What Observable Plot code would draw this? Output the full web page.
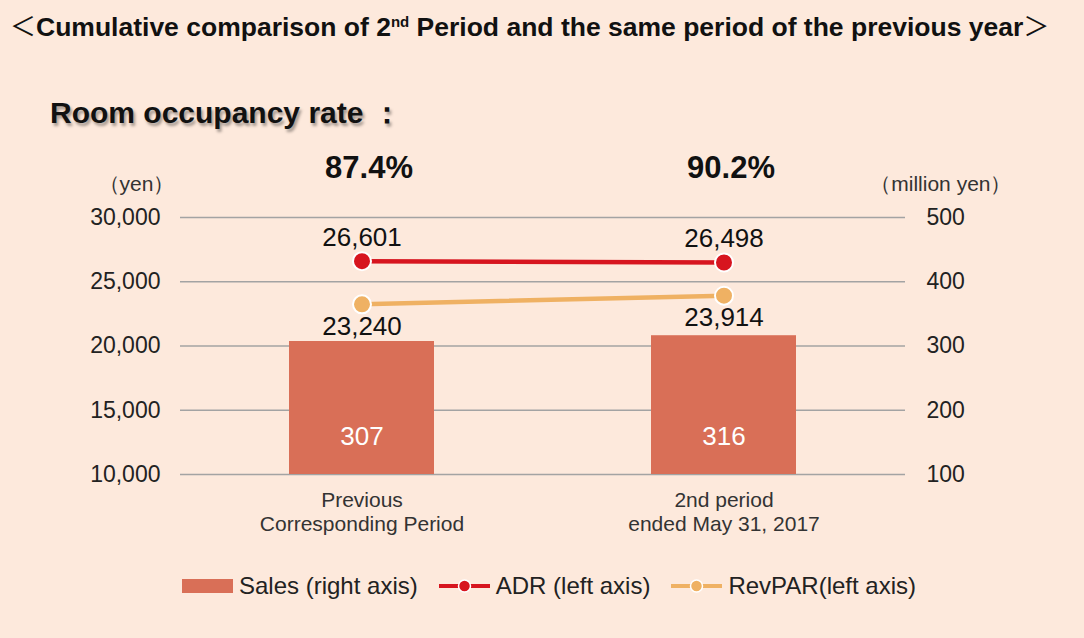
<!DOCTYPE html>
<html>
<head>
<meta charset="utf-8">
<script src="https://cdn.jsdelivr.net/npm/d3@7"></script>
<script src="https://cdn.jsdelivr.net/npm/@observablehq/plot@0.6"></script>
<style>
  html, body { margin: 0; padding: 0; background: #fde9dc; }
  #page { position: relative; width: 1084px; height: 638px; background: #fde9dc; overflow: hidden;
          font-family: "Liberation Sans", Arial, sans-serif; color: #111; }
  #title { position: absolute; left: 10px; top: 6px; font-size: 26.5px; font-weight: bold; white-space: nowrap; }
  #title .br { font-family: "Noto Sans CJK JP", sans-serif; font-weight: normal; font-size: 26px; }
  #title sup { font-size: 15px; vertical-align: 9px; line-height: 0; }
  #occ { position: absolute; left: 50px; top: 93px; font-size: 30px; font-weight: bold; white-space: nowrap;
         text-shadow: 2px 3px 3px rgba(0,0,0,0.35); }
  #chart { position: absolute; left: 0; top: 130px; }
  #legend { position: absolute; left: 182px; top: 572px; display: flex; align-items: center; font-size: 24px; color: #222; white-space: nowrap; }
  #legend .item { display: flex; align-items: center; margin-right: 21px; }
  #legend svg { margin-right: 5px; }
</style>
</head>
<body>
<div id="page">
  <div id="title"><span class="br">＜</span>Cumulative comparison of 2<sup>nd</sup> Period and the same period of the previous year<span class="br">＞</span></div>
  <div id="occ">Room occupancy rate ：</div>
  <div id="chart"></div>
  <div id="legend"></div>
</div>
<script>
// ---- data ----
const categories = ["Previous\nCorresponding Period", "2nd period\nended May 31, 2017"];
const sales = [307, 316];          // million yen (right axis)
const adr = [26601, 26498];        // yen (left axis)
const revpar = [23240, 23914];     // yen (left axis)
const occupancy = ["87.4%", "90.2%"];
const leftTicks = [10000, 15000, 20000, 25000, 30000];
const rightTicks = [100, 200, 300, 400, 500];
const seriesNames = ["Sales (right axis)", "ADR (left axis)", "RevPAR(left axis)"];
const unitLabels = ["（yen）", "（million yen）"];

// ---- colours ----
const cBar = "#d96f57", cADR = "#d7151f", cRev = "#efb163", cGrid = "#a3a3a3";

// right axis (100..500) mapped onto left axis (10000..30000)
const r2l = v => leftTicks[0] + (v - rightTicks[0]) * (leftTicks[4] - leftTicks[0]) / (rightTicks[4] - rightTicks[0]);

const rows = categories.map((c, i) => ({cat: c, sales: sales[i], salesL: r2l(sales[i]), adr: adr[i], revpar: revpar[i], occ: occupancy[i]}));

const fmt = d3.format(",");

const chart = Plot.plot({
  width: 1084,
  height: 410,
  marginLeft: 180,
  marginRight: 179,
  marginTop: 87,
  marginBottom: 66,
  style: {background: "transparent", fontFamily: "'Liberation Sans', Arial, sans-serif", fontSize: "22px", color: "#222", overflow: "visible"},
  x: {type: "band", domain: categories, paddingInner: 0.6, paddingOuter: 0.3, axis: null, label: null},
  y: {domain: [leftTicks[0], leftTicks[4]], axis: null, label: null},
  marks: [
    Plot.ruleY(leftTicks, {stroke: cGrid, strokeWidth: 1.3}),
    Plot.barY(rows, {x: "cat", y1: () => leftTicks[0], y2: "salesL", fill: cBar}),
    Plot.text(rows, {x: "cat", frameAnchor: "bottom", dy: -30, text: d => String(d.sales), fill: "white", fontSize: 26}),
    Plot.line(rows, {x: "cat", y: "adr", stroke: cADR, strokeWidth: 4.5}),
    Plot.dot(rows, {x: "cat", y: "adr", r: 9, fill: cADR, stroke: "white", strokeWidth: 2}),
    Plot.text(rows, {x: "cat", y: "adr", text: d => fmt(d.adr), dy: -24, fontSize: 26, fill: "#111"}),
    Plot.line(rows, {x: "cat", y: "revpar", stroke: cRev, strokeWidth: 4.5}),
    Plot.dot(rows, {x: "cat", y: "revpar", r: 9, fill: cRev, stroke: "white", strokeWidth: 2}),
    Plot.text(rows, {x: "cat", y: "revpar", text: d => fmt(d.revpar), dy: 22, fontSize: 26, fill: "#111"}),
    Plot.text(rows, {x: "cat", frameAnchor: "top", dy: -62, dx: 7, text: "occ", fontSize: 31, fontWeight: "bold", fill: "#111",
                     style: "text-shadow: 2px 3px 3px rgba(0,0,0,0.35)"}),
    Plot.axisY(leftTicks, {anchor: "left", label: null, tickSize: 0, tickPadding: 20, tickFormat: fmt, fontSize: 23, fill: "#222"}),
    Plot.axisY(leftTicks, {anchor: "right", label: null, tickSize: 0, tickPadding: 21, tickFormat: d => String(rightTicks[leftTicks.indexOf(d)]), fontSize: 23, fill: "#222"}),
    Plot.axisX({label: null, tickSize: 0, tickPadding: 15, fontSize: 21, lineHeight: 1.15, fill: "#333"}),
    Plot.text([unitLabels[0]], {frameAnchor: "top-left", dx: -82, dy: -41, textAnchor: "start", fontSize: 21, fill: "#333"}),
    Plot.text([unitLabels[1]], {frameAnchor: "top-right", dx: 106, dy: -41, textAnchor: "end", fontSize: 21, fill: "#333"})
  ]
});
document.getElementById("chart").appendChild(chart);

// ---- legend ----
const legend = d3.select("#legend");
const swatches = [
  s => s.append("rect").attr("x", 0).attr("y", 7).attr("width", 51).attr("height", 14).attr("fill", cBar),
  s => { s.append("line").attr("x1", 0).attr("x2", 51).attr("y1", 14).attr("y2", 14).attr("stroke", cADR).attr("stroke-width", 4);
         s.append("circle").attr("cx", 25.5).attr("cy", 14).attr("r", 6).attr("fill", cADR).attr("stroke", "white").attr("stroke-width", 1.5); },
  s => { s.append("line").attr("x1", 0).attr("x2", 51).attr("y1", 14).attr("y2", 14).attr("stroke", cRev).attr("stroke-width", 4);
         s.append("circle").attr("cx", 25.5).attr("cy", 14).attr("r", 6).attr("fill", cRev).attr("stroke", "white").attr("stroke-width", 1.5); }
];
seriesNames.forEach((name, i) => {
  const item = legend.append("div").attr("class", "item");
  const svg = item.append("svg").attr("width", 52).attr("height", 28);
  swatches[i](svg);
  item.append("span").text(name);
});
</script>
</body>
</html>
